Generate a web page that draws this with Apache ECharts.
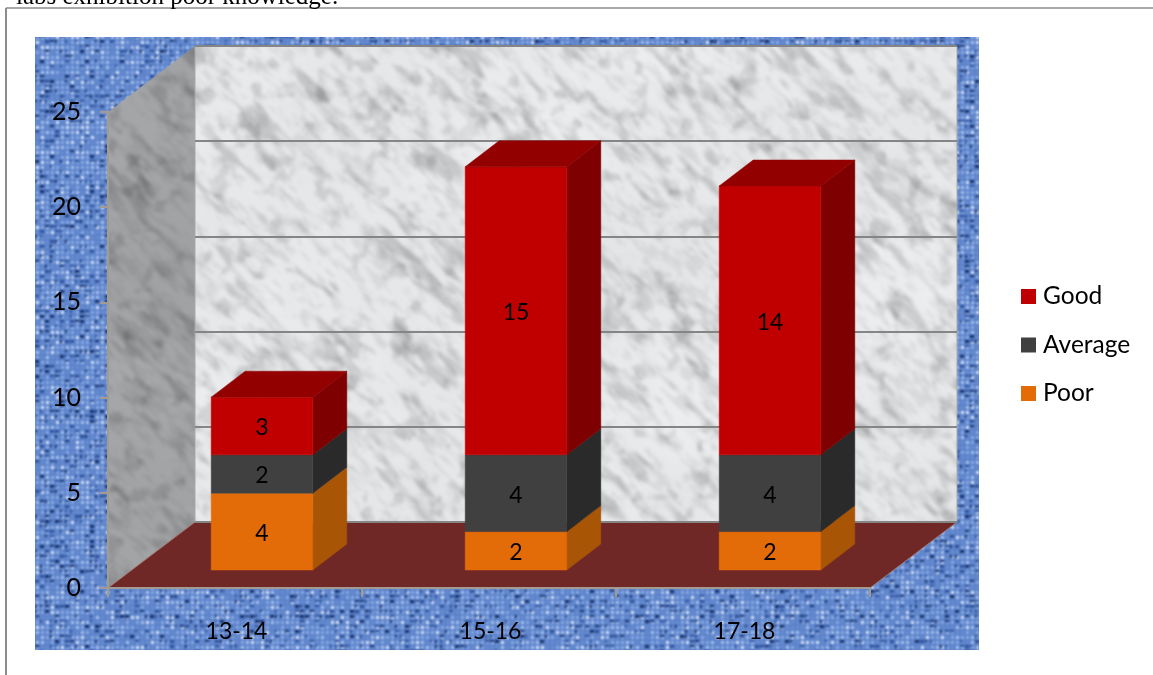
<!DOCTYPE html>
<html>
<head>
<meta charset="utf-8">
<style>html,body{margin:0;padding:0;background:#fff}#chart{width:1153px;height:675px}</style>
<script src="https://cdn.jsdelivr.net/npm/echarts@6/dist/echarts.min.js"></script>
</head>
<body>
<div id="chart"></div>
<script>
// Student counts per session, stacked from the floor upward
const sessions = ['13-14', '15-16', '17-18'];
const poor = [4, 2, 2];
const average = [2, 4, 4];
const good = [3, 15, 14];
const yTicks = [0, 5, 10, 15, 20, 25];
const seriesNames = ['Poor', 'Average', 'Good'];
const legendOrder = ['Good', 'Average', 'Poor'];

const palette = {
  Poor: { front: '#e36c09', side: '#a85506', top: '#c25f08' },
  Average: { front: '#404040', side: '#2a2a2a', top: '#333333' },
  Good: { front: '#c00000', side: '#7f0000', top: '#930000' }
};
const labelFont = 'Lato, "Noto Sans", sans-serif';
const wallDepth = [87, -66];
const barDepth = [34, -26];

// Small seeded noise helpers for the cloth and stone surfaces
function hash(x, y) {
  let h = (x * 374761393 + y * 668265263) | 0;
  h = Math.imul(h ^ (h >>> 13), 1274126177);
  return ((h ^ (h >>> 16)) >>> 0) / 4294967296;
}
function smooth(x, y) {
  const xi = Math.floor(x), yi = Math.floor(y);
  let fx = x - xi, fy = y - yi;
  fx = fx * fx * (3 - 2 * fx); fy = fy * fy * (3 - 2 * fy);
  const a = hash(xi, yi), b = hash(xi + 1, yi), c = hash(xi, yi + 1), d = hash(xi + 1, yi + 1);
  return a + (b - a) * fx + (c - a) * fy + (a - b - c + d) * fx * fy;
}
function fbm(x, y) {
  return (smooth(x, y) * 4 + smooth(x * 2.1 + 7, y * 2.1 + 3) * 2 + smooth(x * 4.3 + 11, y * 4.3 + 5)) / 7;
}
function ramp(a, b, t) {
  const k = Math.min(1, Math.max(0, (t - a) / (b - a)));
  return k * k * (3 - 2 * k);
}
function makeCanvas(w, h) {
  const c = document.createElement('canvas');
  c.width = w; c.height = h;
  return c;
}

// Woven cloth: pale thread knots on a mid blue ground, with dark gaps
function clothTexture() {
  const w = 1000, h = 700, cell = 5;
  const raw = makeCanvas(w, h), ctx = raw.getContext('2d');
  ctx.fillStyle = '#5a80c8';
  ctx.fillRect(0, 0, w, h);
  for (let y = 0; y < h; y += cell) {
    for (let x = 0; x < w; x += cell) {
      const cx = x / cell, cy = y / cell;
      const t = hash(cx + 3, cy + 9);
      const gap = hash(cx + 41, cy + 17);
      const knot = t < 0.25 ? '#6a8fd2' : t < 0.62 ? '#8eafe8' : t < 0.88 ? '#afc9f4' : '#e2edff';
      ctx.fillStyle = knot;
      ctx.fillRect(x + 1, y + 1, 3, 3);
      if (gap < 0.36) {
        ctx.fillStyle = gap < 0.17 ? '#0f2a66' : '#2a4f98';
        ctx.fillRect(x, y, hash(cx, cy + 5) < 0.5 ? 4 : 2, hash(cx + 8, cy) < 0.5 ? 2 : 3);
      }
    }
  }
  const out = makeCanvas(w, h), o = out.getContext('2d');
  o.filter = 'blur(0.85px)';
  o.drawImage(raw, 0, 0);
  return out;
}

// Pale stone with short soft grey drifts running down to the right
function marbleTexture(w, h, shade) {
  const raw = makeCanvas(w, h), ctx = raw.getContext('2d');
  const img = ctx.createImageData(w, h);
  for (let y = 0; y < h; y++) {
    for (let x = 0; x < w; x++) {
      const coarse = fbm((x + y) / 48 + 20, (x - y) / 15 + 20);
      const fine = fbm((x + y) / 20 + 70, (x - y) / 7 + 40);
      const blotch = fbm(x / 16 + 3, y / 16 + 8);
      const cloud = fbm(x / 130 + 50, y / 130 + 60);
      let g = 240 - 34 * ramp(0.52, 0.8, coarse) - 16 * ramp(0.46, 0.76, fine)
        - 24 * ramp(0.58, 0.78, blotch) - 16 * (1 - cloud);
      g *= shade;
      const i = (y * w + x) * 4;
      img.data[i] = g; img.data[i + 1] = g + 1; img.data[i + 2] = g + 3; img.data[i + 3] = 255;
    }
  }
  ctx.putImageData(img, 0, 0);
  const out = makeCanvas(w, h), o = out.getContext('2d');
  o.filter = 'blur(1.4px)';
  o.drawImage(raw, 0, 0);
  return out;
}

const clothFill = { image: clothTexture(), repeat: 'repeat' };
const wallFill = { image: marbleTexture(1000, 700, 1), repeat: 'repeat' };
const sideFill = { image: marbleTexture(400, 700, 0.7), repeat: 'repeat' };

// Cumulative base for each stacked segment
const layers = { Poor: poor, Average: average, Good: good };
function stackRows(name) {
  return sessions.map((_, i) => {
    let base = 0;
    for (const n of seriesNames) {
      if (n === name) break;
      base += layers[n][i];
    }
    return [i, base, base + layers[name][i], layers[name][i]];
  });
}

function renderSegment(name) {
  const colors = palette[name];
  return function (params, api) {
    const i = api.value(0);
    const low = api.coord([i, api.value(1)]);
    const high = api.coord([i, api.value(2)]);
    const width = api.size([1, 0])[0] * 0.4;
    const x0 = low[0] - width / 2, x1 = low[0] + width / 2;
    const [dx, dy] = barDepth;
    const children = [
      { type: 'polygon', shape: { points: [[x1, low[1]], [x1 + dx, low[1] + dy], [x1 + dx, high[1] + dy], [x1, high[1]]] },
        style: { fill: colors.side, stroke: colors.side, lineWidth: 0.5 } },
      { type: 'rect', shape: { x: x0, y: high[1], width: width, height: low[1] - high[1] },
        style: { fill: colors.front, stroke: colors.front, lineWidth: 0.5 } },
      { type: 'text', style: { x: low[0], y: (low[1] + high[1]) / 2 + 2, text: String(api.value(3)), fill: '#000',
        font: '23px ' + labelFont, align: 'center', verticalAlign: 'middle' }, z2: 5 }
    ];
    if (name === seriesNames[seriesNames.length - 1]) {
      children.push({ type: 'polygon',
        shape: { points: [[x0, high[1]], [x0 + dx, high[1] + dy], [x1 + dx, high[1] + dy], [x1, high[1]]] },
        style: { fill: colors.top, stroke: colors.top, lineWidth: 0.5 } });
    }
    return { type: 'group', children: children };
  };
}

// Floor and left wall recede from the front axis plane
function renderRoom(params) {
  const r = params.coordSys;
  const [dx, dy] = wallDepth;
  const bottom = r.y + r.height, right = r.x + r.width;
  return { type: 'group', children: [
    { type: 'polygon', shape: { points: [[r.x, r.y], [r.x + dx, r.y + dy], [r.x + dx, bottom + dy], [r.x, bottom]] },
      style: { fill: sideFill } },
    { type: 'polygon', shape: { points: [[r.x, bottom], [right, bottom], [right + dx, bottom + dy], [r.x + dx, bottom + dy]] },
      style: { fill: '#702827', stroke: '#a07a70', lineWidth: 1 } }
  ] };
}
function renderBackWall(params) {
  const r = params.coordSys;
  return { type: 'rect', shape: { x: r.x, y: r.y, width: r.width, height: r.height },
    style: { fill: wallFill, stroke: '#a9a9a9', lineWidth: 1 } };
}

const hiddenAxis = { show: false };
const yMax = yTicks[yTicks.length - 1];
const yStep = yTicks[1] - yTicks[0];

const chart = echarts.init(document.getElementById('chart'), null, { renderer: 'canvas' });
chart.setOption({
  animation: false,
  backgroundColor: '#fff',
  textStyle: { fontFamily: labelFont },
  graphic: { elements: [
    { type: 'rect', z: -20, shape: { x: 35, y: 37, width: 944, height: 613 }, style: { fill: clothFill } },
    { type: 'line', z: -20, shape: { x1: 6, y1: 8, x2: 1153, y2: 8 }, style: { stroke: '#8c8c8c', lineWidth: 1.5 } },
    { type: 'line', z: -20, shape: { x1: 6, y1: 8, x2: 6, y2: 675 }, style: { stroke: '#8c8c8c', lineWidth: 2 } },
    { type: 'text', z: -20, style: { x: 16, y: 10, text: 'labs exhibition poor knowledge.', fill: '#000',
      font: '25px "Liberation Serif", serif', align: 'left', verticalAlign: 'bottom' } }
  ] },
  legend: {
    data: legendOrder, left: 1021, top: 284, padding: 0, orient: 'vertical', itemGap: 23.5, itemWidth: 15, itemHeight: 15,
    icon: 'rect', selectedMode: false,
    textStyle: { fontFamily: labelFont, fontSize: 24.5, color: '#000', padding: [0, 0, 0, 2] }
  },
  grid: [
    // Front axis plane
    { left: 108, top: 112, width: 762, height: 476, containLabel: false },
    // Plane the bars stand on
    { left: 135, top: 90, width: 762, height: 480, containLabel: false },
    // Back wall
    { left: 195, top: 46, width: 762, height: 476, containLabel: false }
  ],
  xAxis: [
    { type: 'category', gridIndex: 0, data: sessions, z: 1,
      axisLine: { show: true, lineStyle: { color: '#a39b92', width: 2 } },
      axisTick: { show: true, length: 9, lineStyle: { color: '#a39b92', width: 2 } },
      axisLabel: { margin: 32, color: '#000', fontSize: 23, fontFamily: labelFont, padding: [0, 0, 0, 3] } },
    { type: 'category', gridIndex: 1, data: sessions, ...hiddenAxis },
    { type: 'category', gridIndex: 2, data: sessions, ...hiddenAxis }
  ],
  yAxis: [
    { type: 'value', gridIndex: 0, min: 0, max: yMax, interval: yStep, z: 1,
      splitLine: { show: false },
      axisLine: { show: true, lineStyle: { color: '#a39b92', width: 2 } },
      axisTick: { show: true, length: 8, lineStyle: { color: '#a39b92', width: 2 } },
      axisLabel: { margin: 27, color: '#000', fontSize: 25, fontFamily: labelFont, padding: [8, 0, 0, 0] } },
    { type: 'value', gridIndex: 1, min: 0, max: yMax, interval: yStep, ...hiddenAxis },
    { type: 'value', gridIndex: 2, min: 0, max: yMax, interval: yStep, z: 1,
      axisLabel: { show: false }, axisTick: { show: false }, axisLine: { show: false },
      splitLine: { show: true, lineStyle: { color: '#858585', width: 2 } } }
  ],
  series: [
    { name: 'room', type: 'custom', xAxisIndex: 0, yAxisIndex: 0, z: 0, silent: true, clip: false,
      data: [[0, 0]], renderItem: renderRoom },
    { name: 'wall', type: 'custom', xAxisIndex: 2, yAxisIndex: 2, z: 0, silent: true, clip: false,
      data: [[0, 0]], renderItem: renderBackWall }
  ].concat(seriesNames.map(name => ({
    name: name, type: 'custom', xAxisIndex: 1, yAxisIndex: 1, z: 3, clip: false,
    itemStyle: { color: palette[name].front },
    encode: { x: 0, y: [1, 2] },
    data: stackRows(name),
    renderItem: renderSegment(name)
  })))
});
</script>
</body>
</html>
